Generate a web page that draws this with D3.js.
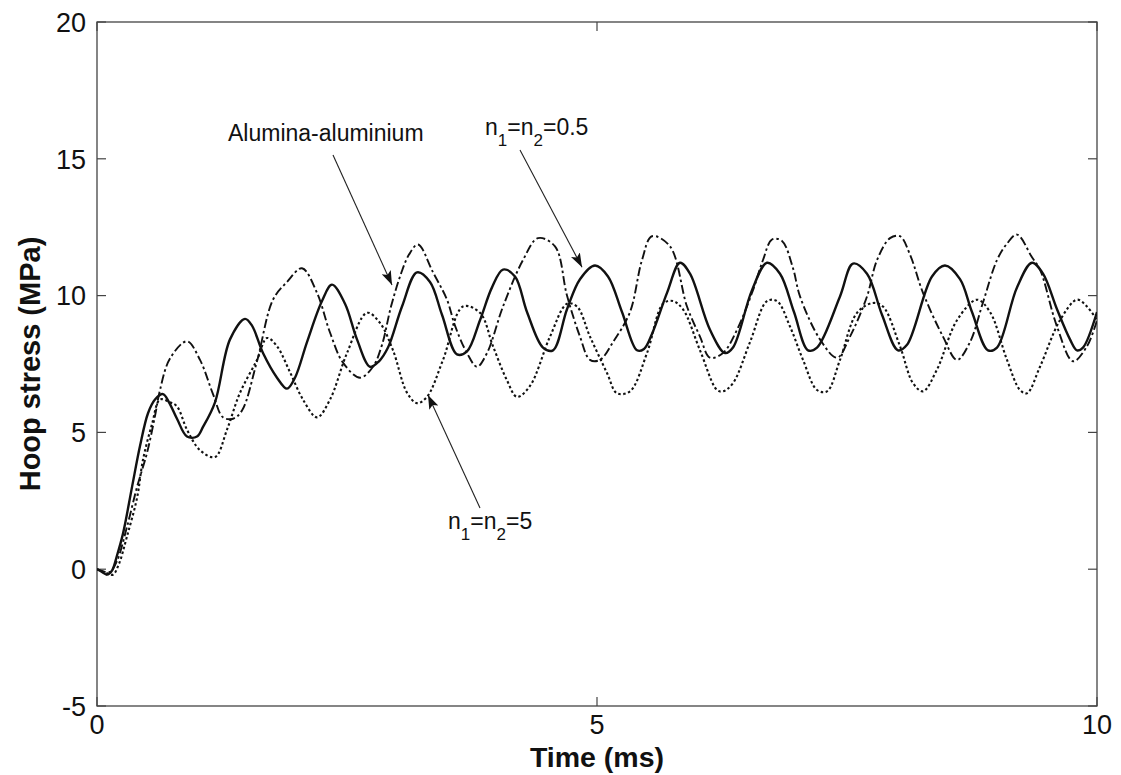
<!DOCTYPE html>
<html>
<head>
<meta charset="utf-8">
<script src="https://cdn.jsdelivr.net/npm/d3@7"></script>
<style>
  html, body { margin: 0; padding: 0; background: #fff; }
  svg { display: block; }
  text { font-family: "Liberation Sans", Arial, sans-serif; fill: #111; }
</style>
</head>
<body>
<svg id="chart" width="1121" height="775"></svg>
<script>
// ---- data (time in ms, hoop stress in MPa) ----
const xTicks = [0, 5, 10];
const yTicks = [-5, 0, 5, 10, 15, 20];
const xLabel = "Time (ms)";
const yLabel = "Hoop stress (MPa)";

// solid line
const seriesSolid = [
 [0,0],[0.05,-0.1],[0.1,-0.2],[0.15,-0.05],[0.2,0.5],[0.26,1.3],[0.35,3.0],[0.43,4.5],[0.51,5.7],[0.58,6.2],
 [0.66,6.4],[0.72,6.1],[0.8,5.5],[0.9,4.85],[1.0,4.85],[1.06,5.2],[1.18,6.1],[1.33,8.4],[1.48,9.15],[1.55,8.9],
 [1.66,7.9],[1.8,7.0],[1.9,6.6],[1.98,7.0],[2.1,8.3],[2.25,9.8],[2.35,10.4],[2.48,9.7],[2.6,8.4],[2.73,7.4],
 [2.82,7.6],[2.91,8.1],[3.05,9.6],[3.2,10.85],[3.33,10.5],[3.45,9.3],[3.6,7.85],[3.7,7.96],[3.83,9.1],[3.95,10.3],
 [4.06,10.95],[4.18,10.7],[4.3,9.4],[4.46,8.1],[4.56,8.0],[4.7,9.5],[4.83,10.6],[4.98,11.1],[5.11,10.7],[5.25,9.4],
 [5.4,8.0],[5.47,8.05],[5.55,8.6],[5.7,10.1],[5.83,11.2],[5.93,10.8],[6.13,8.75],[6.28,7.9],[6.36,8.1],[6.55,10.2],
 [6.7,11.2],[6.83,10.8],[6.97,9.4],[7.11,8.0],[7.2,8.1],[7.43,9.97],[7.56,11.17],[7.7,10.8],[7.85,9.3],[8.01,8.0],
 [8.1,8.2],[8.35,10.7],[8.48,11.1],[8.63,10.6],[8.75,9.4],[8.91,8.0],[9.0,8.1],[9.2,10.3],[9.35,11.2],[9.46,10.8],
 [9.6,9.5],[9.73,8.4],[9.8,8.0],[9.86,8.1],[10.0,9.4]
];

// dash-dot line
const seriesDashDot = [
 [0,0],[0.08,-0.1],[0.13,-0.1],[0.2,0.3],[0.3,1.55],[0.4,3.0],[0.5,4.25],[0.58,5.6],[0.63,6.55],[0.73,7.7],
 [0.9,8.33],[1.03,7.65],[1.16,6.4],[1.26,5.55],[1.36,5.5],[1.45,5.8],[1.6,7.6],[1.76,9.85],[1.9,10.5],[2.05,11.0],
 [2.2,10.1],[2.33,8.65],[2.46,7.55],[2.63,7.0],[2.76,7.4],[2.85,8.2],[2.94,9.6],[3.04,10.8],[3.12,11.5],[3.21,11.87],[3.36,10.85],
 [3.5,9.85],[3.58,8.9],[3.7,7.9],[3.8,7.4],[3.9,7.9],[4.06,9.6],[4.26,11.3],[4.41,12.1],[4.58,11.8],[4.7,10.0],
 [4.83,8.5],[4.93,7.65],[5.03,7.65],[5.16,8.3],[5.33,9.4],[5.45,11.3],[5.55,12.17],[5.73,11.8],[5.9,9.6],[6.03,8.5],
 [6.13,7.73],[6.26,7.9],[6.4,8.75],[6.56,10.2],[6.66,11.3],[6.75,12.05],[6.85,12.0],[6.96,11.0],[7.03,9.97],[7.23,8.4],
 [7.4,7.73],[7.53,8.5],[7.7,9.97],[7.8,11.3],[7.93,12.1],[8.03,12.17],[8.13,11.5],[8.26,10.1],[8.46,8.5],[8.6,7.65],
 [8.73,8.3],[8.86,9.75],[9.0,11.3],[9.1,11.9],[9.2,12.23],[9.35,11.4],[9.43,10.95],[9.6,8.87],[9.76,7.6],[9.9,8.15],
 [10.0,9.1]
];

// dotted line
const seriesDotted = [
 [0,0],[0.1,-0.15],[0.16,-0.2],[0.22,0.2],[0.3,1.2],[0.4,2.6],[0.46,4.0],[0.55,5.3],[0.63,6.2],[0.73,6.1],
 [0.8,5.95],[0.9,5.1],[1.03,4.35],[1.18,4.1],[1.3,5.1],[1.43,6.45],[1.6,7.65],[1.7,8.45],[1.8,8.15],[1.93,7.2],
 [2.06,6.2],[2.2,5.55],[2.33,6.2],[2.5,7.9],[2.7,9.37],[2.83,9.0],[2.96,8.0],[3.1,6.45],[3.2,6.07],[3.3,6.3],
 [3.46,7.65],[3.66,9.6],[3.83,9.37],[3.96,8.15],[4.1,6.9],[4.2,6.3],[4.33,6.7],[4.53,8.5],[4.7,9.7],[4.8,9.6],
 [4.93,8.5],[5.1,7.17],[5.2,6.43],[5.33,6.5],[5.5,7.9],[5.66,9.7],[5.76,9.8],[5.86,9.5],[6.03,8.0],[6.2,6.55],
 [6.26,6.5],[6.36,6.8],[6.53,8.3],[6.7,9.8],[6.8,9.8],[6.93,8.87],[7.06,7.65],[7.2,6.55],[7.3,6.5],[7.43,7.65],
 [7.6,9.37],[7.76,9.73],[7.86,9.6],[8.03,8.15],[8.16,6.8],[8.26,6.5],[8.4,7.3],[8.6,9.1],[8.8,9.85],[8.93,9.4],
 [9.1,7.65],[9.23,6.55],[9.3,6.43],[9.43,7.4],[9.63,9.1],[9.8,9.85],[9.9,9.6],[10.0,9.1]
];

// annotations: label parts, text anchor and arrow start/end in data units
const annoLabels = [
  {parts: [["Alumina-aluminium", false]], at: [1.31, 15.66], from: [2.36, 15.14], to: [2.95, 10.39]},
  {parts: [["n", false], ["1", true], ["=n", false], ["2", true], ["=0.5", false]], at: [3.88, 15.87], from: [4.23, 15.32], to: [4.85, 11.04]},
  {parts: [["n", false], ["1", true], ["=n", false], ["2", true], ["=5", false]], at: [3.51, 1.47], from: [3.83, 2.24], to: [3.31, 6.37]}
];

// ---- drawing ----
const svg = d3.select("#chart");
const margin = {left: 97, right: 24, top: 22, bottom: 69};
const W = 1121, H = 775;
const x = d3.scaleLinear().domain([0, 10]).range([margin.left, W - margin.right]);
const y = d3.scaleLinear().domain([-5, 20]).range([H - margin.bottom, margin.top]);

const defs = svg.append("defs");
defs.append("clipPath").attr("id", "clip").append("rect")
  .attr("x", x(0)).attr("y", y(20)).attr("width", x(10) - x(0)).attr("height", y(-5) - y(20));
defs.append("marker").attr("id", "arrow")
  .attr("viewBox", "0 0 14 10").attr("refX", 14).attr("refY", 5)
  .attr("markerWidth", 14).attr("markerHeight", 10).attr("markerUnits", "userSpaceOnUse")
  .attr("orient", "auto")
  .append("path").attr("d", "M0,0 L14,5 L0,10 L3,5 Z").attr("fill", "#111");

// frame
svg.append("rect").attr("x", x(0)).attr("y", y(20))
  .attr("width", x(10) - x(0)).attr("height", y(-5) - y(20))
  .attr("fill", "#fff").attr("stroke", "#444").attr("stroke-width", 1.3);

const tickLen = 9;
const tickFont = 27;
// ticks (inward, on all four sides)
const axisG = svg.append("g").attr("stroke", "#444").attr("stroke-width", 1.2);
yTicks.forEach(v => {
  axisG.append("line").attr("x1", x(0)).attr("x2", x(0) + tickLen).attr("y1", y(v)).attr("y2", y(v));
  axisG.append("line").attr("x1", x(10)).attr("x2", x(10) - tickLen).attr("y1", y(v)).attr("y2", y(v));
});
xTicks.forEach(t => {
  axisG.append("line").attr("x1", x(t)).attr("x2", x(t)).attr("y1", y(-5)).attr("y2", y(-5) - tickLen);
  axisG.append("line").attr("x1", x(t)).attr("x2", x(t)).attr("y1", y(20)).attr("y2", y(20) + tickLen);
});
svg.append("g").selectAll("text").data(yTicks).join("text")
  .attr("x", x(0) - 11).attr("y", d => y(d)).attr("dy", "0.36em")
  .attr("text-anchor", "end").attr("font-size", tickFont).text(d => d);
svg.append("g").selectAll("text").data(xTicks).join("text")
  .attr("x", d => x(d)).attr("y", y(-5) + 28)
  .attr("text-anchor", "middle").attr("font-size", tickFont).text(d => d);

// axis labels
svg.append("text").attr("x", (x(0) + x(10)) / 2).attr("y", 767)
  .attr("text-anchor", "middle").attr("font-size", 28.5).attr("font-weight", "bold").text(xLabel);
svg.append("text").attr("transform", `translate(40,${y(7.5)}) rotate(-90)`)
  .attr("text-anchor", "middle").attr("font-size", 29).attr("font-weight", "bold").text(yLabel);

// lines
const line = d3.line().x(d => x(d[0])).y(d => y(d[1])).curve(d3.curveCatmullRom.alpha(0.5));
const plot = svg.append("g").attr("clip-path", "url(#clip)").attr("fill", "none").attr("stroke", "#111");
plot.append("path").datum(seriesDotted).attr("d", line)
  .attr("stroke-width", 2.1).attr("stroke-dasharray", "2.5,2.5");
plot.append("path").datum(seriesDashDot).attr("d", line)
  .attr("stroke-width", 1.9).attr("stroke-dasharray", "9,3,2.5,3");
plot.append("path").datum(seriesSolid).attr("d", line)
  .attr("stroke-width", 2.4).attr("stroke-linejoin", "round");

// annotations
annoLabels.forEach(a => {
  svg.append("line")
    .attr("x1", x(a.from[0])).attr("y1", y(a.from[1]))
    .attr("x2", x(a.to[0])).attr("y2", y(a.to[1]))
    .attr("stroke", "#222").attr("stroke-width", 1.1)
    .attr("marker-end", "url(#arrow)");
  const t = svg.append("text").attr("x", x(a.at[0])).attr("y", y(a.at[1])).attr("font-size", 23);
  let shifted = false;
  a.parts.forEach(([s, sub]) => {
    const ts = t.append("tspan").text(s);
    if (sub && !shifted) { ts.attr("dy", 11).attr("font-size", 17); shifted = true; }
    else if (sub) { ts.attr("font-size", 17); }
    else if (shifted) { ts.attr("dy", -11); shifted = false; }
  });
});
</script>
</body>
</html>
